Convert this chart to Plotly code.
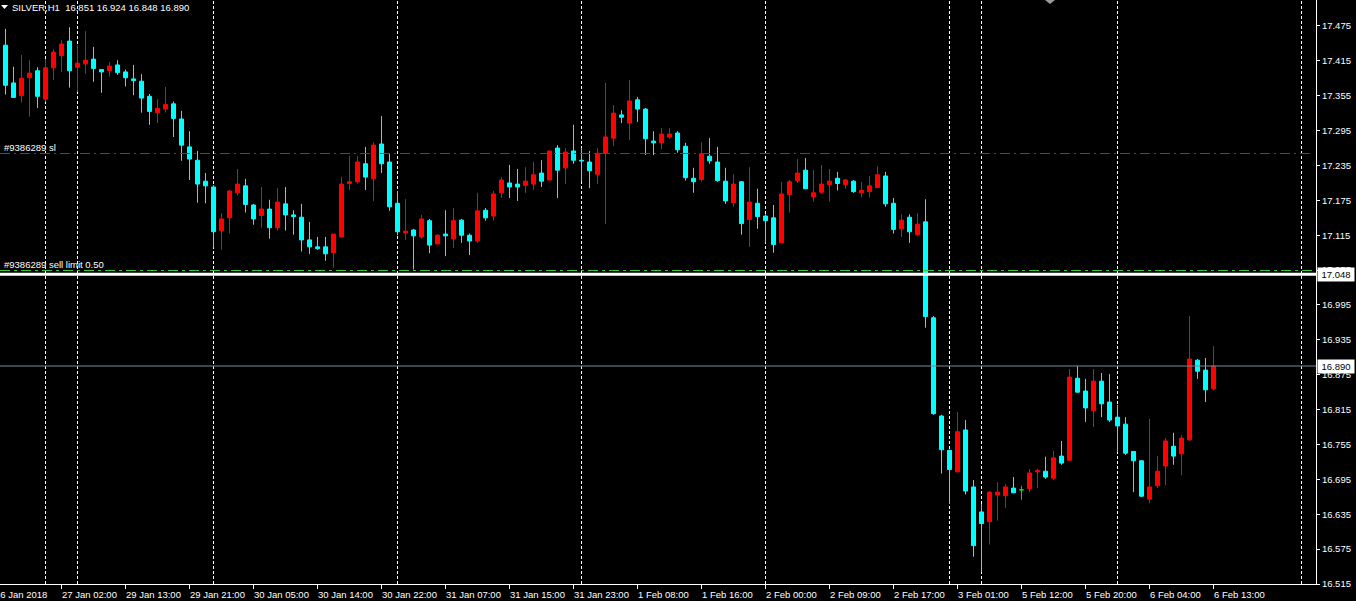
import plotly.graph_objects as go

# ---------------- data (SILVER, H1) ----------------
opens = [17.442, 17.377, 17.355, 17.386, 17.398, 17.349, 17.403, 17.424, 17.449, 17.404,
         17.410, 17.418, 17.400, 17.398, 17.408, 17.396, 17.384, 17.380, 17.354, 17.326,
         17.332, 17.341, 17.315, 17.267, 17.244, 17.208, 17.198, 17.123, 17.145, 17.188,
         17.200, 17.167, 17.149, 17.160, 17.128, 17.169, 17.150, 17.146, 17.107, 17.095,
         17.095, 17.085, 17.112, 17.204, 17.207, 17.238, 17.212, 17.272, 17.241, 17.170,
         17.119, 17.124, 17.112, 17.140, 17.100, 17.117, 17.109, 17.141, 17.115, 17.105,
         17.158, 17.148, 17.188, 17.205, 17.203, 17.201, 17.203, 17.222, 17.210, 17.265,
         17.231, 17.260, 17.244, 17.241, 17.220, 17.256, 17.282, 17.322, 17.308, 17.348,
         17.332, 17.277, 17.274, 17.284, 17.291, 17.268, 17.213, 17.211, 17.251, 17.241,
         17.208, 17.171, 17.207, 17.142, 17.170, 17.148, 17.145, 17.102, 17.185, 17.209,
         17.227, 17.181, 17.189, 17.202, 17.213, 17.202, 17.208, 17.188, 17.190, 17.197,
         17.217, 17.170, 17.126, 17.146, 17.116, 17.138, 16.973, 16.804, 16.745, 16.708,
         16.780, 16.682, 16.639, 16.622, 16.668, 16.667, 16.680, 16.677, 16.679, 16.708,
         16.709, 16.697, 16.735, 16.728, 16.869, 16.847, 16.813, 16.864, 16.828, 16.802,
         16.790, 16.743, 16.727, 16.661, 16.684, 16.718, 16.752, 16.739, 16.763, 16.900,
         16.883, 16.851]
highs = [17.470, 17.405, 17.425, 17.416, 17.404, 17.418, 17.435, 17.451, 17.473, 17.442,
         17.466, 17.439, 17.401, 17.413, 17.416, 17.400, 17.408, 17.392, 17.358, 17.349,
         17.370, 17.345, 17.329, 17.294, 17.260, 17.222, 17.201, 17.153, 17.193, 17.229,
         17.212, 17.169, 17.198, 17.176, 17.196, 17.198, 17.158, 17.169, 17.138, 17.112,
         17.112, 17.117, 17.215, 17.251, 17.251, 17.267, 17.275, 17.320, 17.255, 17.191,
         17.177, 17.126, 17.150, 17.143, 17.117, 17.158, 17.162, 17.143, 17.118, 17.188,
         17.162, 17.191, 17.215, 17.236, 17.229, 17.232, 17.241, 17.244, 17.260, 17.270,
         17.265, 17.305, 17.265, 17.260, 17.265, 17.377, 17.339, 17.330, 17.382, 17.353,
         17.334, 17.294, 17.299, 17.299, 17.294, 17.274, 17.231, 17.275, 17.282, 17.267,
         17.231, 17.220, 17.208, 17.232, 17.195, 17.151, 17.167, 17.207, 17.210, 17.246,
         17.248, 17.227, 17.236, 17.229, 17.224, 17.212, 17.210, 17.207, 17.217, 17.234,
         17.224, 17.179, 17.151, 17.151, 17.153, 17.177, 16.976, 16.806, 16.746, 16.811,
         16.797, 16.694, 16.653, 16.675, 16.690, 16.687, 16.699, 16.684, 16.713, 16.713,
         16.734, 16.744, 16.761, 16.885, 16.890, 16.868, 16.885, 16.878, 16.876, 16.823,
         16.802, 16.743, 16.728, 16.799, 16.735, 16.766, 16.775, 16.771, 16.976, 16.902,
         16.904, 16.924]
lows = [17.357, 17.351, 17.343, 17.319, 17.334, 17.345, 17.382, 17.396, 17.369, 17.362,
        17.393, 17.379, 17.360, 17.388, 17.391, 17.371, 17.356, 17.326, 17.305, 17.308,
        17.326, 17.284, 17.243, 17.210, 17.171, 17.170, 17.094, 17.090, 17.118, 17.183,
        17.154, 17.133, 17.128, 17.109, 17.123, 17.123, 17.116, 17.087, 17.083, 17.090,
        17.071, 17.059, 17.111, 17.193, 17.204, 17.193, 17.174, 17.222, 17.157, 17.115,
        17.107, 17.056, 17.109, 17.084, 17.100, 17.079, 17.093, 17.102, 17.081, 17.102,
        17.140, 17.140, 17.179, 17.179, 17.174, 17.188, 17.193, 17.198, 17.210, 17.179,
        17.203, 17.238, 17.208, 17.196, 17.203, 17.134, 17.268, 17.308, 17.279, 17.310,
        17.253, 17.253, 17.263, 17.281, 17.257, 17.209, 17.188, 17.207, 17.238, 17.207,
        17.169, 17.164, 17.116, 17.095, 17.126, 17.102, 17.085, 17.102, 17.154, 17.205,
        17.195, 17.173, 17.187, 17.173, 17.192, 17.195, 17.188, 17.180, 17.180, 17.197,
        17.164, 17.118, 17.112, 17.102, 17.114, 16.956, 16.806, 16.705, 16.653, 16.708,
        16.669, 16.562, 16.536, 16.583, 16.624, 16.646, 16.672, 16.660, 16.673, 16.680,
        16.696, 16.694, 16.720, 16.728, 16.845, 16.794, 16.785, 16.802, 16.794, 16.742,
        16.737, 16.673, 16.665, 16.654, 16.680, 16.685, 16.720, 16.702, 16.761, 16.868,
        16.828, 16.848]
closes = [17.373, 17.352, 17.385, 17.394, 17.354, 17.403, 17.430, 17.444, 17.398, 17.411,
          17.416, 17.402, 17.396, 17.406, 17.395, 17.386, 17.381, 17.351, 17.328, 17.333,
          17.340, 17.316, 17.270, 17.246, 17.203, 17.200, 17.121, 17.143, 17.191, 17.203,
          17.168, 17.143, 17.160, 17.128, 17.172, 17.150, 17.147, 17.107, 17.095, 17.092,
          17.083, 17.117, 17.203, 17.207, 17.241, 17.215, 17.270, 17.238, 17.164, 17.121,
          17.122, 17.114, 17.143, 17.098, 17.115, 17.114, 17.140, 17.115, 17.105, 17.157,
          17.145, 17.186, 17.210, 17.198, 17.198, 17.208, 17.219, 17.208, 17.260, 17.227,
          17.258, 17.244, 17.243, 17.226, 17.256, 17.284, 17.325, 17.318, 17.346, 17.332,
          17.281, 17.274, 17.289, 17.289, 17.262, 17.214, 17.207, 17.255, 17.243, 17.209,
          17.174, 17.203, 17.135, 17.172, 17.147, 17.140, 17.099, 17.186, 17.207, 17.222,
          17.195, 17.188, 17.203, 17.208, 17.204, 17.210, 17.190, 17.192, 17.200, 17.219,
          17.169, 17.125, 17.141, 17.121, 17.134, 16.975, 16.808, 16.746, 16.712, 16.777,
          16.675, 16.581, 16.619, 16.673, 16.673, 16.682, 16.672, 16.677, 16.706, 16.710,
          16.699, 16.732, 16.723, 16.871, 16.845, 16.818, 16.864, 16.825, 16.797, 16.787,
          16.740, 16.727, 16.666, 16.682, 16.709, 16.761, 16.735, 16.766, 16.902, 16.881,
          16.849, 16.890]

time_tick_bars = [7, 15, 23, 31, 39, 47, 55, 63, 71, 79, 87, 95, 103, 111, 119, 127, 135, 143, 151]
time_tick_labels = ["27 Jan 02:00", "29 Jan 13:00", "29 Jan 21:00", "30 Jan 05:00", "30 Jan 14:00",
                    "30 Jan 22:00", "31 Jan 07:00", "31 Jan 15:00", "31 Jan 23:00", "1 Feb 08:00",
                    "1 Feb 16:00", "2 Feb 00:00", "2 Feb 09:00", "2 Feb 17:00", "3 Feb 01:00",
                    "5 Feb 12:00", "5 Feb 20:00", "6 Feb 04:00", "6 Feb 13:00"]
first_date_label = "26 Jan 2018"
day_separator_bars = [5, 9, 26, 49, 72, 95, 118, 122, 139, 162]
price_ticks = [16.515, 16.575, 16.635, 16.695, 16.755, 16.815, 16.875, 16.935, 16.995,
               17.055, 17.115, 17.175, 17.235, 17.295, 17.355, 17.415, 17.475]
sl_price = 17.2556
sell_limit_price = 17.0543
hline_price = 17.048
hline_label = "17.048"
bid_price = 16.890
bid_label = "16.890"
header_text = "SILVER,H1&nbsp;&nbsp;16.851 16.924 16.848 16.890"
sl_label = "#9386289 sl"
sell_limit_label = "#9386289 sell limit 0.50"

# ---------------- figure ----------------
FONT = "Liberation Sans, Arial, sans-serif"
bars = list(range(len(opens)))
normal = [i for i in bars if opens[i] != closes[i]]
doji = [i for i in bars if opens[i] == closes[i]]

fig = go.Figure()
fig.add_trace(go.Candlestick(
    x=[bars[i] for i in normal],
    open=[opens[i] for i in normal], high=[highs[i] for i in normal],
    low=[lows[i] for i in normal], close=[closes[i] for i in normal],
    increasing=dict(line=dict(color="#ff0000", width=1), fillcolor="#ff0000"),
    decreasing=dict(line=dict(color="#00ffff", width=1), fillcolor="#00ffff"),
    whiskerwidth=0, hoverinfo="skip", showlegend=False))
if doji:
    fig.add_trace(go.Candlestick(
        x=[bars[i] for i in doji],
        open=[opens[i] for i in doji], high=[highs[i] for i in doji],
        low=[lows[i] for i in doji], close=[closes[i] for i in doji],
        increasing=dict(line=dict(color="#00e000", width=1), fillcolor="#00e000"),
        decreasing=dict(line=dict(color="#00e000", width=1), fillcolor="#00e000"),
        whiskerwidth=0, hoverinfo="skip", showlegend=False))

shapes = []
for b in day_separator_bars:
    shapes.append(dict(type="line", xref="x", yref="paper", x0=b, x1=b, y0=0, y1=1,
                       line=dict(color="#ffffff", width=1, dash="3px,2px"), layer="below"))
shapes.append(dict(type="line", xref="paper", yref="y", x0=0, x1=0.997, y0=sl_price, y1=sl_price,
                   line=dict(color="#ff0000", width=1, dash="10px,4px,2px,4px")))
shapes.append(dict(type="line", xref="paper", yref="y", x0=0, x1=1, y0=sell_limit_price, y1=sell_limit_price,
                   line=dict(color="#33cc33", width=1, dash="10px,4px,3px,4px")))
shapes.append(dict(type="line", xref="paper", yref="y", x0=0, x1=1, y0=hline_price, y1=hline_price,
                   line=dict(color="#ffffff", width=3)))
shapes.append(dict(type="line", xref="paper", yref="y", x0=0, x1=1, y0=bid_price, y1=bid_price,
                   line=dict(color="#778899", width=1)))
# small marker triangles
shapes.append(dict(type="path", xref="paper", yref="paper",
                   path="M %f,%f L %f,%f L %f,%f Z" % (1/1316, 1-5/584, 8/1316, 1-5/584, 4.5/1316, 1-9/584),
                   fillcolor="#ffffff", line=dict(width=0)))
shapes.append(dict(type="path", xref="paper", yref="paper",
                   path="M %f,%f L %f,%f L %f,%f Z" % (1045/1316, 1, 1055/1316, 1, 1050/1316, 1-4/584),
                   fillcolor="#9a9a9a", line=dict(width=0)))

ann = []
for b, t in zip(time_tick_bars, time_tick_labels):
    ann.append(dict(x=b, y=0, xref="x", yref="paper", text=t, showarrow=False,
                    xanchor="left", yanchor="top", xshift=-2, yshift=-3,
                    font=dict(family=FONT, size=9.5, color="#ffffff")))
ann.append(dict(x=0, y=0, xref="paper", yref="paper", text=first_date_label, showarrow=False,
                xanchor="left", yanchor="top", xshift=-7, yshift=-3,
                font=dict(family=FONT, size=9.5, color="#ffffff")))
ann.append(dict(x=0, y=1, xref="paper", yref="paper", text=header_text, showarrow=False,
                xanchor="left", yanchor="top", xshift=10, yshift=0,
                font=dict(family=FONT, size=9.5, color="#ffffff")))
ann.append(dict(x=0, y=sl_price, xref="paper", yref="y", text=sl_label, showarrow=False,
                xanchor="left", yanchor="bottom", xshift=2, yshift=-1,
                font=dict(family=FONT, size=9.5, color="#ffffff")))
ann.append(dict(x=0, y=sell_limit_price, xref="paper", yref="y", text=sell_limit_label, showarrow=False,
                xanchor="left", yanchor="bottom", xshift=2, yshift=-1,
                font=dict(family=FONT, size=9.5, color="#ffffff")))
for p, t in ((hline_price, hline_label), (bid_price, bid_label)):
    ann.append(dict(x=1, y=p, xref="paper", yref="y", text=t, showarrow=False,
                    xanchor="left", yanchor="middle", xshift=1, bgcolor="#ffffff",
                    borderpad=1, width=34,
                    font=dict(family=FONT, size=9.5, color="#000000")))

fig.update_layout(
    width=1356, height=601,
    margin=dict(l=0, r=40, t=0, b=17, pad=0),
    paper_bgcolor="#000000", plot_bgcolor="#000000",
    boxgap=0.5, boxgroupgap=0,
    showlegend=False, dragmode=False, hovermode=False,
    shapes=shapes, annotations=ann,
    xaxis=dict(range=[-0.6875, 163.8125], rangeslider=dict(visible=False),
               showgrid=False, zeroline=False, showline=True, linecolor="#ffffff", linewidth=1,
               tickmode="array", tickvals=time_tick_bars, ticks="outside", ticklen=4,
               tickcolor="#ffffff", showticklabels=False, fixedrange=True),
    yaxis=dict(range=[16.515, 17.5197], side="right", showgrid=False, zeroline=False,
               showline=True, linecolor="#ffffff", linewidth=1,
               tickmode="array", tickvals=price_ticks, ticktext=["%.3f" % v for v in price_ticks],
               ticks="outside", ticklen=3, tickcolor="#ffffff",
               tickfont=dict(family=FONT, size=9.5, color="#ffffff"), fixedrange=True),
)

fig.write_html("out.html", config={"displayModeBar": False, "staticPlot": True},
               post_script="document.body.style.margin='0';document.body.style.background='#000';")
